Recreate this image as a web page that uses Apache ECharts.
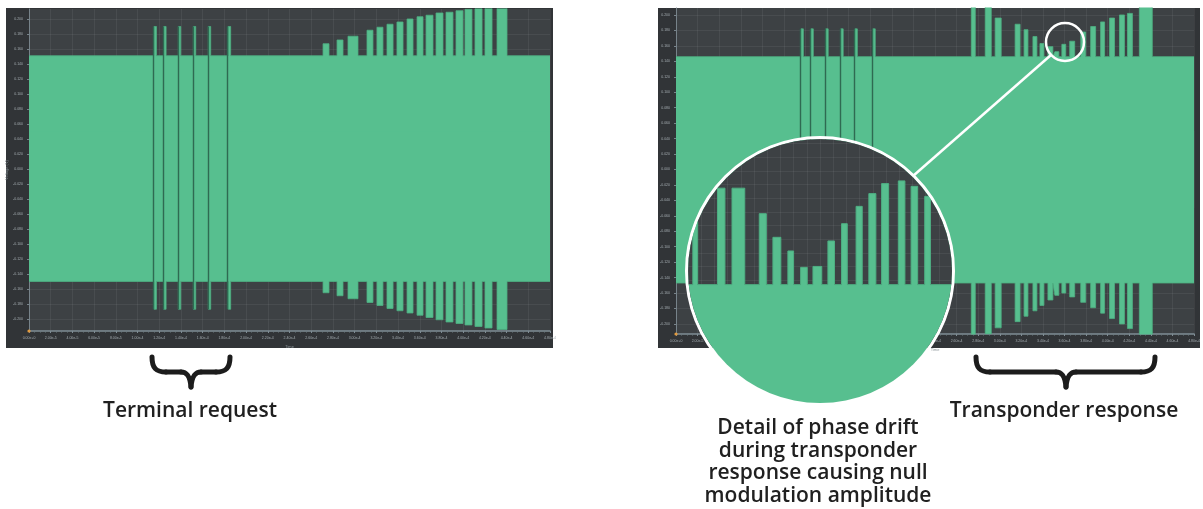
<!DOCTYPE html>
<html>
<head>
<meta charset="utf-8">
<script src="https://cdn.jsdelivr.net/npm/echarts@6/dist/echarts.min.js"></script>
<style>
  html, body { margin: 0; padding: 0; background: #fff; }
  #main { position: absolute; left: 0; top: 0; width: 1203px; height: 509px; }
  #zoom {
    position: absolute; left: 685px; top: 136px; width: 270px; height: 270px;
    border-radius: 50%; overflow: hidden; border: 3px solid #fff; box-sizing: border-box;
  }
  #zoomChart { width: 100%; height: 100%; }
</style>
</head>
<body>
<div id="main"></div>
<div id="zoom"><div id="zoomChart"></div></div>
<script>
// time axis in microseconds, amplitude in volts
const xTicksMax = 480;
const yTicks = [-0.2, -0.18, -0.16, -0.14, -0.12, -0.1, -0.08, -0.06, -0.04, -0.02, 0,
  0.02, 0.04, 0.06, 0.08, 0.1, 0.12, 0.14, 0.16, 0.18, 0.2];

// left chart: terminal request + transponder response (amplitude growing)
const leftBaseTop = 0.151;
const leftBaseBottom = -0.150;
const leftSpikeStart = [115.2, 124.1, 137.6, 151.4, 165.2, 183.6];
const leftSpikeWidth = 2.2;
const leftSpikeTop = 0.190;
const leftSpikeBottom = -0.187;
const leftPulseStart = [270.9, 283.8, 293.9, 311.4, 320.6, 329.8, 339.0, 348.3, 357.5, 365.8, 375.0, 384.2, 393.4, 401.7, 410.9, 420.1, 431.2];
const leftPulseEnd   = [276.4, 289.3, 303.1, 316.9, 326.1, 335.4, 344.6, 353.8, 363.0, 372.2, 381.4, 390.6, 399.8, 408.1, 417.4, 426.6, 440.4];
const leftPulseTop   = [0.167, 0.172, 0.177, 0.185, 0.189, 0.193, 0.196, 0.200, 0.203, 0.205, 0.208, 0.209, 0.211, 0.213, 0.214, 0.215, 0.220];
const leftPulseBottom = [-0.165, -0.169, -0.173, -0.178, -0.182, -0.186, -0.189, -0.192, -0.195, -0.198, -0.201, -0.204, -0.206, -0.208, -0.210, -0.212, -0.214];

// right chart: transponder response with phase drift (V shaped amplitude)
const rightBaseTop = 0.146;
const rightBaseBottom = -0.147;
const rightSpikeStart = [115.8, 125.0, 138.8, 152.7, 165.8, 182.4];
const rightSpikeWidth = 2.2;
const rightSpikeTop = 0.182;
const rightSpikeBottom = -0.184;
const rightPulseStart = [273.6, 286.5, 295.7, 314.2, 322.5, 330.7, 337.2, 344.6, 351.0, 357.5, 364.8, 375.0, 384.2, 393.4, 401.7, 410.9, 418.3, 429.3];
const rightPulseEnd   = [277.3, 292.1, 301.3, 318.8, 326.1, 334.4, 340.9, 349.2, 354.7, 361.1, 369.4, 379.6, 388.8, 397.1, 406.3, 415.5, 422.9, 441.3];
const rightPulseTop   = [0.215, 0.215, 0.196, 0.188, 0.181, 0.172, 0.163, 0.159, 0.1525, 0.162, 0.166, 0.178, 0.185, 0.191, 0.196, 0.200, 0.202, 0.215];
const rightPulseBottom = [-0.215, -0.213, -0.205, -0.197, -0.190, -0.183, -0.176, -0.169, -0.163, -0.160, -0.165, -0.172, -0.179, -0.186, -0.193, -0.200, -0.206, -0.215];

// magnified detail inside the circle
const innerBase = 0.154;
const innerPulseStart = [1.1, 6.7, 10.0, 16.2, 19.3, 22.7, 25.6, 28.4, 31.8, 34.9, 38.2, 41.1, 44.0, 47.8, 50.7, 53.8];
const innerPulseEnd   = [2.2, 8.4, 12.9, 17.8, 21.1, 24.0, 27.1, 30.4, 33.3, 36.2, 39.6, 42.7, 45.6, 49.3, 52.2, 55.1];
const innerPulseTop   = [0.1609, 0.1646, 0.1646, 0.1618, 0.1592, 0.1577, 0.1559, 0.1560, 0.1588, 0.1607, 0.1626, 0.1640, 0.1651, 0.1654, 0.1648, 0.1637];

const green = '#57bf8f';
const edgeGreen = '#4eae82';
const plotBg = '#3d4144';
const panelBg = '#313437';
const labelColor = '#a3abb0';

function buildEdge(base, starts, ends, amps, xMax) {
  const order = starts.map((s, i) => i).sort((a, b) => starts[a] - starts[b]);
  const pts = [[0, base]];
  order.forEach(i => {
    pts.push([starts[i], base], [starts[i], amps[i]], [ends[i], amps[i]], [ends[i], base]);
  });
  pts.push([xMax, base]);
  return pts;
}

function chartSeries(idx, baseTop, baseBottom, spikeStart, spikeWidth, spikeTop, spikeBottom,
                     pulseStart, pulseEnd, pulseTop, pulseBottom) {
  const starts = spikeStart.concat(pulseStart);
  const ends = spikeStart.map(s => s + spikeWidth).concat(pulseEnd);
  const tops = spikeStart.map(() => spikeTop).concat(pulseTop);
  const bottoms = spikeStart.map(() => spikeBottom).concat(pulseBottom);
  const common = {
    type: 'line', xAxisIndex: idx, yAxisIndex: idx, symbol: 'none', silent: true,
    lineStyle: { width: 0.8, color: edgeGreen }
  };
  return [
    // the two fills overlap a little around zero so no seam shows
    Object.assign({}, common, {
      areaStyle: { color: green, opacity: 1, origin: -0.05 },
      data: buildEdge(baseTop, starts, ends, tops, xTicksMax)
    }),
    Object.assign({}, common, {
      areaStyle: { color: green, opacity: 1, origin: 0.05 },
      data: buildEdge(baseBottom, starts, ends, bottoms, xTicksMax),
      markLine: {
        silent: true, symbol: 'none', label: { show: false },
        lineStyle: { color: '#2f6a52', width: 1.4, type: 'solid' },
        data: spikeStart.map(s => [{ coord: [s - 0.5, spikeBottom] }, { coord: [s - 0.5, spikeTop] }])
      }
    })
  ];
}

function xAxisFor(idx) {
  return {
    type: 'value', gridIndex: idx, min: 0, max: xTicksMax, interval: 20,
    name: 'Time', nameLocation: 'middle', nameGap: 12,
    nameTextStyle: { color: '#8d969b', fontSize: 4 },
    axisLine: { show: true, onZero: false, lineStyle: { color: '#7f8d95', width: 1.5 } },
    axisTick: { show: true, length: 2, lineStyle: { color: '#7f8d95' } },
    minorTick: { show: true, splitNumber: 4, length: 1.5, lineStyle: { color: '#6b787f' } },
    axisLabel: {
      interval: 0, color: labelColor, fontSize: 3.5, margin: 5,
      formatter: v => (v * 1e-6).toExponential(2)
    },
    splitLine: { show: true, lineStyle: { color: 'rgba(255,255,255,0.06)' } }
  };
}

function yAxisFor(idx, min, max, name) {
  return {
    type: 'value', gridIndex: idx, min: min, max: max,
    name: name, nameLocation: 'middle', nameGap: 19, nameRotate: 90,
    nameTextStyle: { color: '#7d868b', fontSize: 4 },
    axisLine: { show: true, onZero: false, lineStyle: { color: '#77838a' } },
    axisTick: { show: true, length: 2, customValues: yTicks, lineStyle: { color: '#77838a' } },
    axisLabel: { customValues: yTicks, color: labelColor, fontSize: 3.5, margin: 6, formatter: v => v.toFixed(3) },
    splitLine: { show: true, lineStyle: { color: 'rgba(255,255,255,0.06)' } }
  };
}

// horizontal curly brace opening upwards, tip pointing down
function brace(x0, xc, x1, yTop, yMid, yTip) {
  const style = { stroke: '#1c1c1c', lineWidth: 5, fill: null, lineCap: 'round' };
  const r = 14;
  const seg = (shape, type) => ({ type: type, z: 10, shape: shape, style: style });
  return [
    seg({ x1: x0, y1: yTop, cpx1: x0, cpy1: yMid - 4, cpx2: x0 + 4, cpy2: yMid, x2: x0 + r, y2: yMid }, 'bezierCurve'),
    seg({ x1: x0 + r, y1: yMid, x2: xc - 10, y2: yMid }, 'line'),
    seg({ x1: xc - 10, y1: yMid, cpx1: xc - 4, cpy1: yMid, cpx2: xc - 1, cpy2: yMid + 4, x2: xc, y2: yTip }, 'bezierCurve'),
    seg({ x1: xc, y1: yTip, cpx1: xc + 1, cpy1: yMid + 4, cpx2: xc + 4, cpy2: yMid, x2: xc + 10, y2: yMid }, 'bezierCurve'),
    seg({ x1: xc + 10, y1: yMid, x2: x1 - r, y2: yMid }, 'line'),
    seg({ x1: x1 - r, y1: yMid, cpx1: x1 - 4, cpy1: yMid, cpx2: x1, cpy2: yMid - 4, x2: x1, y2: yTop }, 'bezierCurve')
  ];
}

const textStyle = { fontFamily: 'Open Sans', fontWeight: 600, fontSize: 21, fill: '#202020' };

const chart = echarts.init(document.getElementById('main'));
chart.setOption({
  animation: false,
  backgroundColor: '#ffffff',
  grid: [
    { left: 29, top: 9, width: 521, height: 322, show: true, backgroundColor: plotBg, borderWidth: 0 },
    { left: 676, top: 8, width: 521, height: 326, show: true, backgroundColor: plotBg, borderWidth: 0 }
  ],
  xAxis: [xAxisFor(0), xAxisFor(1)],
  yAxis: [yAxisFor(0, -0.216, 0.2133, 'Voltage (V)'), yAxisFor(1, -0.213, 0.209, '')],
  series: [].concat(
    chartSeries(0, leftBaseTop, leftBaseBottom, leftSpikeStart, leftSpikeWidth, leftSpikeTop, leftSpikeBottom,
      leftPulseStart, leftPulseEnd, leftPulseTop, leftPulseBottom),
    chartSeries(1, rightBaseTop, rightBaseBottom, rightSpikeStart, rightSpikeWidth, rightSpikeTop, rightSpikeBottom,
      rightPulseStart, rightPulseEnd, rightPulseTop, rightPulseBottom)
  ),
  graphic: [
    { type: 'rect', z: -1, shape: { x: 6, y: 8, width: 547, height: 340 }, style: { fill: panelBg } },
    { type: 'rect', z: -1, shape: { x: 658, y: 8, width: 542, height: 340 }, style: { fill: panelBg } },
    { type: 'circle', z: 10, shape: { cx: 29, cy: 331, r: 1.6 }, style: { fill: '#e39b3e' } },
    { type: 'circle', z: 10, shape: { cx: 676, cy: 334, r: 1.6 }, style: { fill: '#e39b3e' } }
  ].concat(
    brace(152, 191, 230, 357, 372, 387),
    brace(976, 1066, 1155, 357, 372, 387),
    [
      { type: 'text', z: 10, style: Object.assign({ text: 'Terminal request', x: 190, y: 411, textAlign: 'center', textVerticalAlign: 'middle' }, textStyle) },
      { type: 'text', z: 10, style: Object.assign({ text: 'Transponder response', x: 1064, y: 411, textAlign: 'center', textVerticalAlign: 'middle' }, textStyle) },
      {
        type: 'text', z: 10,
        style: Object.assign({
          text: 'Detail of phase drift\nduring transponder\nresponse causing null\nmodulation amplitude',
          x: 818, y: 417, textAlign: 'center', textVerticalAlign: 'top', lineHeight: 22.5
        }, textStyle)
      },
      // callout
      { type: 'circle', z: 20, shape: { cx: 1065, cy: 42, r: 19 }, style: { stroke: '#ffffff', lineWidth: 2.5, fill: null } },
      { type: 'line', z: 20, shape: { x1: 1051, y1: 55, x2: 913, y2: 176 }, style: { stroke: '#ffffff', lineWidth: 2.5 } }
    ]
  )
});

const zoomChart = echarts.init(document.getElementById('zoomChart'));
zoomChart.setOption({
  animation: false,
  grid: { left: 0, right: 0, top: 0, bottom: 0, show: true, backgroundColor: plotBg, borderWidth: 0 },
  xAxis: {
    type: 'value', min: 0, max: 60, interval: 3,
    axisLine: { show: false }, axisTick: { show: false }, axisLabel: { show: false },
    splitLine: { show: true, lineStyle: { color: 'rgba(255,255,255,0.06)' } }
  },
  yAxis: {
    type: 'value', min: 0.141, max: 0.170, interval: 0.0015,
    axisLine: { show: false }, axisTick: { show: false }, axisLabel: { show: false },
    splitLine: { show: true, lineStyle: { color: 'rgba(255,255,255,0.06)' } }
  },
  series: [{
    type: 'line', symbol: 'none', silent: true,
    lineStyle: { width: 1, color: edgeGreen },
    areaStyle: { color: green, opacity: 1, origin: 'start' },
    data: buildEdge(innerBase, innerPulseStart, innerPulseEnd, innerPulseTop, 60)
  }]
});
</script>
</body>
</html>
